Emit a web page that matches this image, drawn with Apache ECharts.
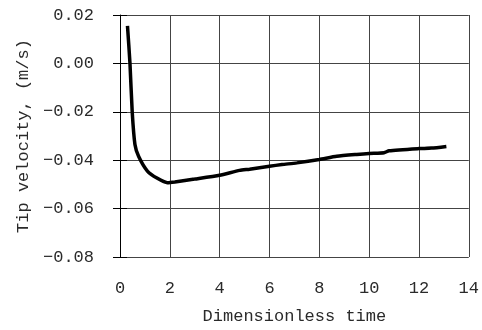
<!DOCTYPE html>
<html>
<head>
<meta charset="utf-8">
<script src="https://cdn.jsdelivr.net/npm/echarts@6/dist/echarts.min.js"></script>
<style>
  html, body { margin: 0; padding: 0; background: #fff; }
  #chart { width: 482px; height: 330px; }
</style>
</head>
<body>
<div id="chart"></div>
<script>
// dimensionless time vs tip velocity (m/s)
const timeValues = [0.30, 0.40, 0.49, 0.60, 0.75, 1.1, 1.5, 1.9, 2.2, 3.0, 4.0, 4.8, 5.2, 6.0, 6.5, 7.1, 8.0, 8.7, 9.5, 10.0, 10.6, 10.8, 12.0, 12.5, 13.1];
const velocityValues = [0.0155, 0.0, -0.020, -0.0335, -0.0385, -0.0445, -0.0475, -0.0493, -0.0490, -0.0478, -0.0462, -0.0442, -0.0437, -0.0425, -0.0418, -0.0411, -0.0397, -0.0384, -0.0376, -0.0372, -0.0369, -0.0361, -0.0352, -0.0350, -0.0343];
const xTicks = [0, 2, 4, 6, 8, 10, 12, 14];
const yTicks = [-0.08, -0.06, -0.04, -0.02, 0.00, 0.02];

const FONT = "Liberation Mono";
const TXT = "#2a2a2a";
const FS = 17;

const chart = echarts.init(document.getElementById("chart"));

const fmtY = (v) => {
  const s = Math.abs(v).toFixed(2);
  return v < -1e-9 ? "\u2212" + s : s;
};

const yBase = {
  type: "value",
  min: yTicks[0],
  max: yTicks[yTicks.length - 1],
  interval: 0.02,
};

chart.setOption({
  animation: false,
  backgroundColor: "#fff",
  grid: { left: 120, right: 9, top: 15, bottom: 73 },
  xAxis: {
    type: "value",
    min: xTicks[0],
    max: xTicks[xTicks.length - 1],
    interval: 2,
    name: "Dimensionless time",
    nameLocation: "middle",
    nameGap: 51,
    nameTextStyle: { fontFamily: FONT, fontSize: FS, color: TXT },
    axisLine: { show: false },
    axisTick: { show: false },
    axisLabel: { fontFamily: FONT, fontSize: FS, color: TXT, margin: 23 },
    splitLine: { show: true, lineStyle: { color: "#444", width: 1 } },
  },
  yAxis: [
    {
      ...yBase,
      name: "Tip velocity, (m/s)",
      nameLocation: "middle",
      nameGap: 86,
      nameTextStyle: { fontFamily: FONT, fontSize: FS, color: TXT },
      axisLine: { show: true, lineStyle: { color: "#000", width: 1 } },
      axisTick: { show: true, length: 7, lineStyle: { color: "#000" } },
      axisLabel: { fontFamily: FONT, fontSize: FS, color: TXT, margin: 26, formatter: fmtY },
      splitLine: { show: true, lineStyle: { color: "#444", width: 1 } },
    },
    {
      // inner half of the crossing ticks
      ...yBase,
      position: "left",
      axisLine: { show: false },
      axisTick: { show: true, inside: true, length: 7, lineStyle: { color: "#000" } },
      axisLabel: { show: false },
      splitLine: { show: false },
    },
  ],
  series: [
    {
      type: "line",
      yAxisIndex: 0,
      data: timeValues.map((t, i) => [t, velocityValues[i]]),
      showSymbol: false,
      smooth: 0.2,
      lineStyle: { color: "#000", width: 3.5 },
    },
  ],
});
</script>
</body>
</html>
